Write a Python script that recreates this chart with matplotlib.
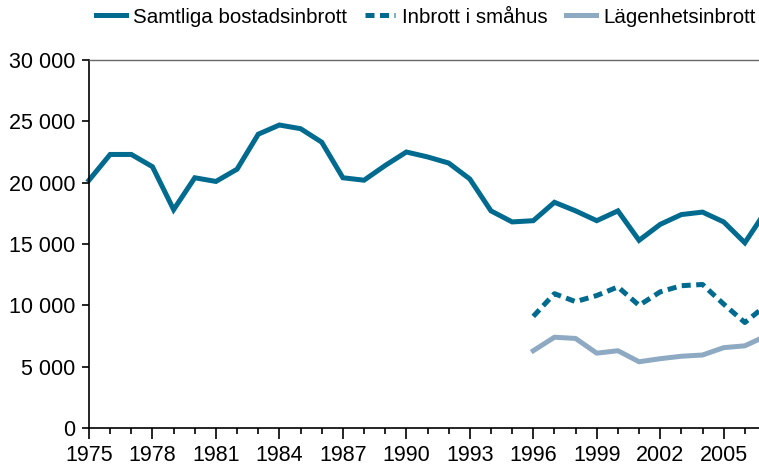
import numpy as np
import matplotlib
matplotlib.use("Agg")
import matplotlib.pyplot as plt
from matplotlib.ticker import FuncFormatter, MultipleLocator, FixedLocator

plt.rcParams["font.family"] = ["Liberation Sans", "DejaVu Sans"]

years = list(range(1975, 2008))
samtliga = [20200, 22300, 22300, 21300, 17800, 20400, 20100, 21100, 23950, 24700,
            24400, 23300, 20400, 20200, 21400, 22500, 22100, 21600, 20300, 17700,
            16800, 16900, 18400, 17700, 16900, 17700, 15300, 16600, 17400, 17600,
            16800, 15100, 17700]

years_late = list(range(1996, 2008))
smahus = [9100, 10950, 10300, 10800, 11500, 10000, 11100, 11600, 11700, 10100, 8600, 10000]
lagenhet = [6300, 7400, 7300, 6100, 6300, 5400, 5650, 5850, 5950, 6550, 6700, 7500]

year_ticks = list(range(1975, 2007, 3))

dark = "#006b8f"
light = "#8eaac2"

fig = plt.figure(figsize=(7.59, 4.66), dpi=100)
ax = fig.add_axes([89 / 759, 1 - 428 / 466, (766 - 89) / 759, (428 - 60) / 466])

ax.plot(years, samtliga, color=dark, lw=3.6, label="Samtliga bostadsinbrott",
        solid_joinstyle="miter", clip_on=False)
ax.plot(years_late, smahus, color=dark, lw=3.6, dashes=(1.8, 1.1),
        dash_capstyle="butt", label="Inbrott i småhus", clip_on=False)
ax.plot(years_late, lagenhet, color=light, lw=3.6, label="Lägenhetsinbrott", clip_on=False)

ax.set_xlim(1975, 2007)
ax.set_ylim(0, 30000)

ax.xaxis.set_major_locator(FixedLocator(year_ticks))
ax.xaxis.set_minor_locator(MultipleLocator(1))
ax.yaxis.set_major_locator(MultipleLocator(5000))
ax.yaxis.set_major_formatter(FuncFormatter(lambda v, p: f"{int(v):,}".replace(",", " ")))

ax.spines["right"].set_visible(False)
ax.spines["top"].set_color("#666666")
ax.spines["top"].set_linewidth(1.0)
ax.spines["left"].set_linewidth(1.2)
ax.spines["bottom"].set_linewidth(1.2)

ax.tick_params(axis="y", which="major", length=5, width=1.2, pad=5, labelsize=15.5)
ax.tick_params(axis="x", which="major", length=8, width=1.2, pad=4, labelsize=15.5)
ax.tick_params(axis="x", which="minor", length=4.5, width=1.2)

fig.legend(loc="upper right", bbox_to_anchor=(1.012, 1.01), ncol=3, frameon=False,
           fontsize=14.8, handlelength=1.45, handletextpad=0.35, columnspacing=0.9,
           borderaxespad=0.2)

fig.savefig("out.png", dpi=100)
